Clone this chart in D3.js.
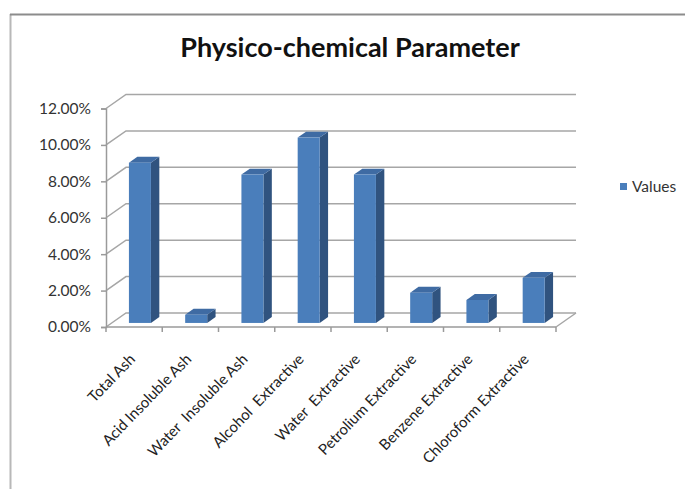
<!DOCTYPE html>
<html>
<head>
<meta charset="utf-8">
<script src="https://cdn.jsdelivr.net/npm/d3@7/dist/d3.min.js"></script>
<style>
  html, body { margin: 0; padding: 0; background: #fff; }
  svg { display: block; font-family: Lato, "Liberation Sans", Arial, sans-serif; }
</style>
</head>
<body>
<svg id="chart" width="685" height="489"></svg>
<script>
// Physico-chemical parameters of the sample (fraction of dry weight)
const categories = [
  "Total Ash",
  "Acid Insoluble Ash",
  "Water  Insoluble Ash",
  "Alcohol  Extractive",
  "Water  Extractive",
  "Petrolium Extractive",
  "Benzene Extractive",
  "Chloroform Extractive"
];
const values = [0.088, 0.0045, 0.0815, 0.1018, 0.0815, 0.0166, 0.0126, 0.0248];
const yTicks = [0, 0.02, 0.04, 0.06, 0.08, 0.10, 0.12];
const seriesName = "Values";
const titleText = "Physico-chemical Parameter";

const svg = d3.select("#chart");

// oblique depth vector of the 3-D box
const DX = 20, DY = -14;
const depthFront = 0.29, depthBack = 0.71;

const x = d3.scaleBand().domain(categories).range([106, 556]).paddingInner(0).paddingOuter(0);
const y = d3.scaleLinear().domain([0, 0.12]).range([327, 108.5]);
const fmt = d3.format(".2%");

// outer frame
svg.append("line").attr("x1", 10.5).attr("y1", 14).attr("x2", 10.5).attr("y2", 489)
  .attr("stroke", "#b8b8b8").attr("stroke-width", 2);
svg.append("line").attr("x1", 10).attr("y1", 14.5).attr("x2", 685).attr("y2", 14.5)
  .attr("stroke", "#8c8c8c").attr("stroke-width", 2);

// title
svg.append("text").attr("x", 350).attr("y", 57).attr("text-anchor", "middle")
  .attr("font-size", 27).attr("font-weight", "bold").attr("fill", "#111")
  .text(titleText);

const grid = svg.append("g").attr("stroke", "#a6a6a6").attr("stroke-width", 1.5).attr("fill", "none");
const x0 = x.range()[0], x1 = x.range()[1];

// side-wall diagonals and back-wall gridlines
yTicks.forEach(t => {
  const yy = y(t);
  grid.append("path").attr("d", `M${x0},${yy}L${x0 + DX},${yy + DY}L${x1 + DX},${yy + DY}`);
});
// floor right edge
grid.append("line").attr("x1", x1).attr("y1", y(0)).attr("x2", x1 + DX).attr("y2", y(0) + DY);

// bars
const bw = 22;
const dd = depthBack - depthFront;
const bars = svg.append("g");
categories.forEach((c, i) => {
  const v = values[i];
  const L = x(c) + (x.bandwidth() - bw) / 2 + depthFront * DX;
  const R = L + bw;
  const b = y(0) + depthFront * DY;
  const t = y(v) + depthFront * DY;
  const ox = dd * DX, oy = dd * DY;
  // side face
  bars.append("path")
    .attr("d", `M${R},${b}L${R + ox},${b + oy}L${R + ox},${t + oy}L${R},${t}Z`)
    .attr("fill", "#30537f");
  // top face
  bars.append("path")
    .attr("d", `M${L},${t}L${R},${t}L${R + ox},${t + oy}L${L + ox},${t + oy}Z`)
    .attr("fill", "#3f6ba3");
  // front face
  bars.append("rect").attr("x", L).attr("y", t).attr("width", bw).attr("height", b - t)
    .attr("fill", "#4a7ebb");
});

// value axis
const yAxis = svg.append("g").attr("transform", `translate(${x0},0)`)
  .call(d3.axisLeft(y).tickValues(yTicks).tickFormat(fmt).tickSize(5).tickPadding(10));
yAxis.select(".domain").attr("stroke", "#9a9a9a").attr("stroke-width", 1.5);
yAxis.selectAll(".tick line").attr("stroke", "#9a9a9a").attr("stroke-width", 1.5);
yAxis.selectAll(".tick text").attr("font-size", 15.5).attr("fill", "#333")
  .attr("font-family", "Lato, Liberation Sans, Arial, sans-serif");

// category axis line and ticks
const xa = svg.append("g").attr("stroke", "#9a9a9a").attr("stroke-width", 1.5);
xa.append("line").attr("x1", x0).attr("y1", y(0)).attr("x2", x1).attr("y2", y(0));
categories.concat([null]).forEach((c, i) => {
  const xx = c === null ? x1 : x(c);
  xa.append("line").attr("x1", xx).attr("y1", y(0)).attr("x2", xx).attr("y2", y(0) + 5);
});

// rotated category labels
svg.append("g").selectAll("text").data(categories).join("text")
  .attr("transform", d => `translate(${x(d) + x.bandwidth() / 2 + 2},${y(0) + 33}) rotate(-46)`)
  .attr("text-anchor", "end")
  .attr("font-size", 15).attr("fill", "#222")
  .style("white-space", "pre")
  .text(d => d);

// legend
svg.append("rect").attr("x", 620).attr("y", 183).attr("width", 7).attr("height", 7).attr("fill", "#4a7ebb");
svg.append("text").attr("x", 632).attr("y", 192).attr("font-size", 15.5).attr("fill", "#333").text(seriesName);
</script>
</body>
</html>
